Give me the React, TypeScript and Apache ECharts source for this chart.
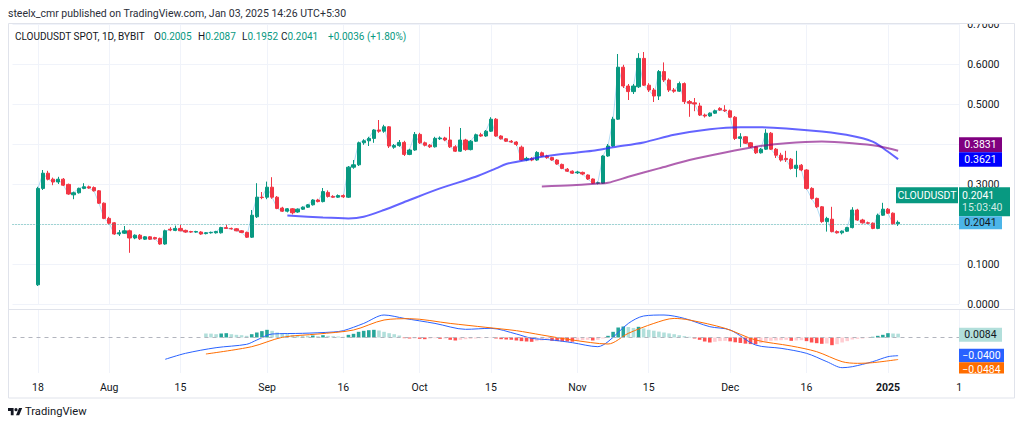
import React, { useEffect, useRef } from 'react';
import * as echarts from 'echarts';

const FONT = 'Roboto, "Noto Sans", sans-serif';
const TEXT = '#131722';
const UP = '#089981';
const DOWN = '#f23645';

// ---------- axis categories (daily) ----------
const DAY = 86400000;
const axisStart = Date.UTC(2024, 6, 13);
const axisEnd = Date.UTC(2025, 0, 15);
const categories: string[] = [];
for (let t = axisStart; t <= axisEnd; t += DAY) categories.push(new Date(t).toISOString().slice(0, 10));
const firstCandleDate = '2024-07-18';

const tickDates = ['2024-07-18', '2024-08-01', '2024-08-15', '2024-09-01', '2024-09-16', '2024-10-01', '2024-10-15', '2024-11-01', '2024-11-15', '2024-12-01', '2024-12-16', '2025-01-01', '2025-01-15'];
const tickLabels = ['18', 'Aug', '15', 'Sep', '16', 'Oct', '15', 'Nov', '15', 'Dec', '16', '2025', '1'];
// price-scale labels hidden behind the value tags in the reference
const hiddenPriceLabels = [0.2, 0.4];

// ---------- candles (from 2024-07-18, daily) ----------
const opens = [0.048, 0.289, 0.327, 0.312, 0.305, 0.312, 0.299, 0.273, 0.278, 0.289, 0.293, 0.291, 0.283, 0.252, 0.214, 0.203, 0.175, 0.177, 0.183, 0.165, 0.172, 0.162, 0.168, 0.166, 0.164, 0.150, 0.187, 0.184, 0.189, 0.184, 0.181, 0.180, 0.180, 0.176, 0.178, 0.178, 0.178, 0.191, 0.189, 0.188, 0.183, 0.179, 0.167, 0.218, 0.267, 0.267, 0.292, 0.267, 0.240, 0.232, 0.238, 0.230, 0.237, 0.242, 0.248, 0.260, 0.256, 0.279, 0.269, 0.267, 0.271, 0.267, 0.342, 0.348, 0.403, 0.408, 0.414, 0.435, 0.432, 0.443, 0.392, 0.396, 0.404, 0.374, 0.385, 0.424, 0.403, 0.397, 0.393, 0.413, 0.415, 0.410, 0.393, 0.382, 0.410, 0.386, 0.407, 0.423, 0.420, 0.432, 0.462, 0.420, 0.413, 0.407, 0.405, 0.392, 0.360, 0.364, 0.360, 0.378, 0.370, 0.366, 0.360, 0.349, 0.337, 0.332, 0.328, 0.329, 0.3225, 0.3125, 0.302, 0.302, 0.370, 0.395, 0.462, 0.592, 0.545, 0.531, 0.543, 0.614, 0.547, 0.535, 0.520, 0.581, 0.560, 0.535, 0.532, 0.551, 0.506, 0.503, 0.495, 0.4725, 0.470, 0.477, 0.489, 0.485, 0.483, 0.467, 0.414, 0.418, 0.403, 0.393, 0.378, 0.387, 0.427, 0.387, 0.372, 0.364, 0.362, 0.339, 0.347, 0.335, 0.289, 0.264, 0.243, 0.206, 0.212, 0.181, 0.178, 0.182, 0.191, 0.235, 0.210, 0.203, 0.202, 0.189, 0.222, 0.237, 0.227, 0.2005];
const highs = [0.293, 0.335, 0.333, 0.316, 0.318, 0.315, 0.301, 0.281, 0.291, 0.302, 0.296, 0.294, 0.285, 0.254, 0.218, 0.205, 0.185, 0.195, 0.186, 0.174, 0.175, 0.170, 0.170, 0.168, 0.166, 0.186, 0.192, 0.196, 0.198, 0.186, 0.183, 0.183, 0.182, 0.180, 0.181, 0.183, 0.193, 0.198, 0.191, 0.190, 0.185, 0.181, 0.235, 0.302, 0.280, 0.306, 0.317, 0.270, 0.243, 0.240, 0.240, 0.239, 0.244, 0.250, 0.262, 0.263, 0.290, 0.284, 0.272, 0.274, 0.274, 0.345, 0.360, 0.406, 0.412, 0.418, 0.437, 0.460, 0.448, 0.445, 0.400, 0.410, 0.408, 0.388, 0.430, 0.428, 0.406, 0.400, 0.418, 0.419, 0.418, 0.443, 0.397, 0.440, 0.413, 0.410, 0.426, 0.428, 0.435, 0.467, 0.465, 0.422, 0.415, 0.410, 0.407, 0.396, 0.368, 0.367, 0.382, 0.381, 0.373, 0.368, 0.362, 0.351, 0.340, 0.334, 0.333, 0.331, 0.324, 0.314, 0.306, 0.372, 0.400, 0.468, 0.625, 0.598, 0.550, 0.550, 0.627, 0.630, 0.552, 0.540, 0.585, 0.604, 0.564, 0.540, 0.556, 0.554, 0.510, 0.515, 0.503, 0.476, 0.479, 0.486, 0.492, 0.497, 0.486, 0.470, 0.427, 0.420, 0.405, 0.395, 0.390, 0.437, 0.430, 0.390, 0.378, 0.383, 0.365, 0.383, 0.350, 0.337, 0.292, 0.266, 0.245, 0.218, 0.243, 0.184, 0.184, 0.193, 0.242, 0.238, 0.213, 0.206, 0.204, 0.226, 0.253, 0.240, 0.229, 0.2087];
const lows = [0.045, 0.285, 0.309, 0.297, 0.300, 0.295, 0.273, 0.262, 0.276, 0.287, 0.288, 0.281, 0.250, 0.212, 0.199, 0.173, 0.170, 0.175, 0.128, 0.162, 0.160, 0.160, 0.160, 0.161, 0.148, 0.148, 0.182, 0.182, 0.182, 0.178, 0.178, 0.178, 0.173, 0.174, 0.176, 0.176, 0.176, 0.188, 0.186, 0.182, 0.177, 0.165, 0.165, 0.215, 0.262, 0.262, 0.263, 0.237, 0.230, 0.229, 0.224, 0.228, 0.235, 0.240, 0.246, 0.254, 0.254, 0.266, 0.265, 0.265, 0.265, 0.265, 0.338, 0.345, 0.398, 0.395, 0.403, 0.428, 0.428, 0.390, 0.388, 0.393, 0.370, 0.372, 0.383, 0.400, 0.394, 0.390, 0.391, 0.410, 0.407, 0.390, 0.380, 0.380, 0.383, 0.384, 0.405, 0.418, 0.418, 0.430, 0.418, 0.411, 0.405, 0.403, 0.395, 0.358, 0.357, 0.357, 0.358, 0.368, 0.363, 0.358, 0.348, 0.337, 0.330, 0.325, 0.325, 0.322, 0.310, 0.300, 0.299, 0.300, 0.368, 0.393, 0.460, 0.540, 0.510, 0.525, 0.540, 0.545, 0.530, 0.505, 0.510, 0.555, 0.530, 0.528, 0.530, 0.500, 0.468, 0.482, 0.470, 0.466, 0.468, 0.475, 0.483, 0.480, 0.465, 0.410, 0.392, 0.400, 0.390, 0.375, 0.376, 0.385, 0.385, 0.365, 0.356, 0.355, 0.336, 0.317, 0.332, 0.286, 0.261, 0.240, 0.203, 0.181, 0.179, 0.176, 0.174, 0.180, 0.189, 0.208, 0.201, 0.200, 0.187, 0.187, 0.220, 0.225, 0.199, 0.1952];
const closes = [0.289, 0.327, 0.312, 0.305, 0.312, 0.297, 0.275, 0.278, 0.289, 0.293, 0.290, 0.283, 0.252, 0.214, 0.202, 0.175, 0.178, 0.183, 0.165, 0.172, 0.163, 0.168, 0.162, 0.163, 0.150, 0.183, 0.185, 0.189, 0.183, 0.180, 0.180, 0.181, 0.175, 0.178, 0.179, 0.181, 0.191, 0.189, 0.188, 0.183, 0.179, 0.167, 0.222, 0.267, 0.266, 0.292, 0.267, 0.239, 0.232, 0.238, 0.228, 0.237, 0.242, 0.248, 0.260, 0.256, 0.281, 0.269, 0.267, 0.271, 0.268, 0.342, 0.348, 0.403, 0.408, 0.414, 0.435, 0.432, 0.443, 0.395, 0.396, 0.404, 0.374, 0.385, 0.424, 0.403, 0.397, 0.393, 0.414, 0.415, 0.410, 0.393, 0.382, 0.410, 0.386, 0.407, 0.423, 0.420, 0.432, 0.462, 0.420, 0.413, 0.407, 0.405, 0.399, 0.360, 0.364, 0.360, 0.379, 0.370, 0.366, 0.360, 0.350, 0.339, 0.332, 0.327, 0.330, 0.325, 0.3125, 0.302, 0.303, 0.370, 0.395, 0.462, 0.592, 0.545, 0.531, 0.545, 0.614, 0.547, 0.535, 0.520, 0.581, 0.560, 0.535, 0.532, 0.551, 0.506, 0.502, 0.500, 0.4725, 0.470, 0.477, 0.483, 0.485, 0.483, 0.467, 0.414, 0.418, 0.402, 0.393, 0.378, 0.387, 0.427, 0.387, 0.372, 0.360, 0.361, 0.339, 0.347, 0.335, 0.289, 0.264, 0.243, 0.206, 0.214, 0.181, 0.178, 0.182, 0.191, 0.235, 0.210, 0.203, 0.202, 0.189, 0.222, 0.237, 0.227, 0.2005, 0.2041];

// ---------- moving averages: [candle index, value] ----------
const maBluePoints: [number, number][] = [[49, 0.221], [56, 0.216], [61, 0.214], [64, 0.218], [68, 0.235], [73, 0.26], [79, 0.289], [86, 0.318], [90, 0.339], [92, 0.35], [96, 0.36], [99, 0.368], [103, 0.375], [109, 0.383], [113, 0.392], [119, 0.404], [125, 0.423], [132, 0.437], [138, 0.442], [141, 0.442], [147, 0.439], [154, 0.431], [160, 0.42], [164, 0.406], [166, 0.39], [169, 0.3621]];
const maPurplePoints: [number, number][] = [[99, 0.294], [105, 0.297], [110, 0.301], [112, 0.303], [116, 0.318], [122, 0.339], [128, 0.36], [135, 0.379], [141, 0.393], [147, 0.402], [154, 0.406], [160, 0.402], [165, 0.395], [169, 0.3831]];

// ---------- MACD ----------
const macdPoints: [number, number][] = [[25, -0.048], [29, -0.0348], [35, -0.0224], [41, -0.015], [43, -0.0055], [46, 0.0077], [52, 0.0092], [58, 0.0121], [60, 0.015], [64, 0.031], [68, 0.0495], [72, 0.042], [78, 0.031], [84, 0.018], [89, 0.0202], [94, 0.0077], [97, -0.0018], [101, -0.0055], [105, -0.0114], [110, -0.0202], [112, -0.0092], [116, 0.031], [119, 0.0473], [123, 0.0495], [127, 0.042], [132, 0.0238], [136, 0.0165], [141, -0.0165], [146, -0.0238], [151, -0.0348], [155, -0.0532], [158, -0.0664], [160, -0.0642], [164, -0.0532], [167, -0.0422], [169, -0.04]];
const signalPoints: [number, number][] = [[33, -0.0363], [42, -0.0202], [48, 0.0004], [55, 0.0077], [62, 0.0165], [68, 0.0385], [73, 0.0414], [81, 0.031], [88, 0.0224], [94, 0.015], [99, 0.0055], [105, -0.0055], [112, -0.0143], [116, 0.0092], [121, 0.031], [125, 0.042], [128, 0.0385], [135, 0.0202], [141, -0.0055], [148, -0.0187], [153, -0.0312], [158, -0.0532], [161, -0.0568], [164, -0.0554], [169, -0.0484]];
const histStart = 33;
const histValues = [0.0088, 0.0085, 0.0073, 0.0088, 0.0095, 0.0073, 0.0059, 0.0051, 0.0037, 0.0073, 0.011, 0.014, 0.0169, 0.0147, 0.011, 0.0088, 0.0073, 0.0059, 0.0051, 0.0044, 0.0037, 0.0044, 0.0029, 0.0051, 0.0037, 0.0029, 0.0022, 0.0015, 0.0059, 0.0081, 0.0125, 0.0147, 0.0161, 0.0169, 0.0154, 0.0125, 0.0095, 0.0073, 0.0044, -0.0015, -0.0022, -0.002, -0.0029, -0.0037, -0.0022, -0.0015, -0.0029, -0.0022, -0.0051, -0.0066, -0.0051, -0.0037, -0.0029, -0.0022, -0.0015, -0.0012, -0.0007, -0.0022, -0.0037, -0.0044, -0.0051, -0.0066, -0.008, -0.0088, -0.0095, -0.008, -0.0066, -0.0051, -0.0073, -0.008, -0.0085, -0.009, -0.0092, -0.0073, -0.0059, -0.0051, -0.0066, -0.0051, -0.0022, 0.0037, 0.0125, 0.022, 0.0242, 0.023, 0.021, 0.0235, 0.02, 0.017, 0.015, 0.013, 0.011, 0.009, 0.0073, 0.0051, 0.003, 0.0015, -0.0022, -0.0051, -0.0088, -0.011, -0.0095, -0.008, -0.0073, -0.0085, -0.0105, -0.012, -0.0135, -0.0145, -0.015, -0.0125, -0.009, -0.0073, -0.0066, -0.0059, -0.0051, -0.0073, -0.0066, -0.0059, -0.008, -0.011, -0.0125, -0.0139, -0.0132, -0.0169, -0.0147, -0.011, -0.008, -0.0044, -0.0029, -0.0022, -0.0007, 0.0015, 0.0037, 0.0059, 0.0095, 0.0088, 0.0084];

const lastPrice = 0.2041;
const maBlueLast = 0.3621;
const maPurpleLast = 0.3831;
const histLast = 0.0084;
const macdLast = -0.04;
const signalLast = -0.0484;

// TradingView logo outline
echarts.graphic.registerShape(
  'tvlogo',
  echarts.graphic.extendPath('M14 22H7V11H0V4h14v18zM28 22h-8l7.5-18h8L28 22zM20 4a4 4 0 1 1 0 8a4 4 0 1 1 0-8z', {})
);

const offset = categories.indexOf(firstCandleDate);
const GRID_LEFT = 12.5;
const GRID_RIGHT = 1024 - 959.2;

export default function App() {
  const ref = useRef<HTMLDivElement>(null);
  useEffect(() => {
    if (!ref.current) return;
    const chart = echarts.init(ref.current, undefined, { renderer: 'svg' });

    const candleData = categories.map((_, i) => {
      const k = i - offset;
      if (k >= 0 && k < opens.length) return [opens[k], closes[k], lows[k], highs[k]];
      return '-';
    });
    const closeData = categories.map((_, i) => {
      const k = i - offset;
      return k >= 0 && k < closes.length ? closes[k] : '-';
    });
    const toXY = (pts: [number, number][]) => pts.map(([d, v]) => [d + offset, v]);
    const histData = categories.map((_, i) => {
      const k = i - offset - histStart;
      if (k < 0 || k >= histValues.length) return '-';
      const v = histValues[k];
      const prev = k > 0 ? histValues[k - 1] : undefined;
      let color;
      if (v >= 0) color = prev !== undefined && v >= prev ? '#26a69a' : '#b2dfdb';
      else color = prev !== undefined && v <= prev ? '#ff5252' : '#ffcdd2';
      return { value: v, itemStyle: { color } };
    });

    const isTick = (_i: number, v: string) => tickDates.indexOf(v) >= 0;

    chart.setOption({
      animation: false,
      backgroundColor: '#ffffff',
      grid: [
        { left: GRID_LEFT, right: GRID_RIGHT, top: 24, height: 280 },
        { left: GRID_LEFT, right: GRID_RIGHT, top: 309, height: 64 },
      ],
      xAxis: [
        {
          type: 'category', gridIndex: 0, data: categories, boundaryGap: false,
          axisLine: { show: false }, axisTick: { show: false }, axisLabel: { show: false },
          splitLine: { show: true, interval: isTick, lineStyle: { color: '#f0f3fa', width: 1 } },
        },
        {
          type: 'category', gridIndex: 1, data: categories, boundaryGap: false,
          axisLine: { show: false }, axisTick: { show: false },
          splitLine: { show: true, interval: isTick, lineStyle: { color: '#f0f3fa', width: 1 } },
          axisLabel: {
            interval: isTick, margin: 9, fontSize: 10.5, fontFamily: FONT, color: TEXT,
            formatter: (v: string) => {
              const s = tickLabels[tickDates.indexOf(v)];
              return s === '2025' ? '{b|2025}' : s;
            },
            rich: { b: { fontWeight: 'bold', fontSize: 10.5, fontFamily: FONT, color: TEXT } },
          },
        },
      ],
      yAxis: [
        {
          type: 'value', gridIndex: 0, position: 'right', min: 0, max: 0.7, interval: 0.1,
          axisLine: { show: false }, axisTick: { show: false },
          splitLine: { show: true, lineStyle: { color: '#f0f3fa', width: 1 } },
          axisLabel: {
            margin: 8, fontSize: 10.5, fontFamily: FONT, color: TEXT,
            formatter: (v: number) => (hiddenPriceLabels.some((h) => Math.abs(h - v) < 1e-9) ? '' : v.toFixed(4)),
          },
        },
        {
          type: 'value', gridIndex: 1, position: 'right', min: -0.0781, max: 0.0627,
          axisLine: { show: false }, axisTick: { show: false }, splitLine: { show: false }, axisLabel: { show: false },
        },
      ],
      series: [
        {
          type: 'line', xAxisIndex: 0, yAxisIndex: 0, data: closeData, showSymbol: false, z: 1,
          lineStyle: { color: 'rgba(80,175,230,0.45)', width: 1 }, silent: true,
        },
        {
          type: 'candlestick', xAxisIndex: 0, yAxisIndex: 0, data: candleData, barWidth: '72%', z: 3,
          itemStyle: { color: UP, color0: DOWN, borderColor: UP, borderColor0: DOWN, borderWidth: 1 },
          markLine: {
            silent: true, symbol: ['none', 'none'], label: { show: false },
            lineStyle: { type: [1, 2], color: '#26a69a', width: 1, opacity: 0.8 },
            data: [{ yAxis: lastPrice }],
          },
        },
        {
          type: 'line', xAxisIndex: 0, yAxisIndex: 0, data: toXY(maBluePoints), showSymbol: false, smooth: 0.3, z: 4,
          lineStyle: { color: 'rgba(40,40,255,0.72)', width: 2 }, silent: true,
        },
        {
          type: 'line', xAxisIndex: 0, yAxisIndex: 0, data: toXY(maPurplePoints), showSymbol: false, smooth: 0.3, z: 4,
          lineStyle: { color: 'rgba(128,0,128,0.62)', width: 2 }, silent: true,
        },
        {
          type: 'bar', xAxisIndex: 1, yAxisIndex: 1, data: histData, barWidth: '70%', silent: true,
          markLine: {
            silent: true, symbol: ['none', 'none'], label: { show: false },
            lineStyle: { type: [4, 4], color: '#b2b5be', width: 1 },
            data: [{ yAxis: 0 }],
          },
        },
        {
          type: 'line', xAxisIndex: 1, yAxisIndex: 1, data: toXY(macdPoints), showSymbol: false, smooth: 0.3,
          lineStyle: { color: '#2962ff', width: 1 }, silent: true,
        },
        {
          type: 'line', xAxisIndex: 1, yAxisIndex: 1, data: toXY(signalPoints), showSymbol: false, smooth: 0.3,
          lineStyle: { color: '#ff6d00', width: 1 }, silent: true,
        },
      ],
    });

    const py = (v: number) => chart.convertToPixel({ yAxisIndex: 0 }, v) as number;
    const my = (v: number) => chart.convertToPixel({ yAxisIndex: 1 }, v) as number;

    const txt = (x: number, y: number, text: string, fill: string, extra: any = {}) => ({
      type: 'text', x, y, z: 110, silent: true,
      style: { text, fill, fontSize: 10.5, fontFamily: FONT, align: 'left', verticalAlign: 'middle', ...extra },
    });
    const box = (x: number, y: number, w: number, h: number, fill: string) => ({
      type: 'rect', z: 105, silent: true, shape: { x, y, width: w, height: h }, style: { fill },
    });
    const richOHLC = {
      fontSize: 10,
      rich: {
        k: { fill: TEXT, color: TEXT, fontSize: 10, fontFamily: FONT },
        g: { fill: UP, color: UP, fontSize: 10, fontFamily: FONT },
      },
    };

    const TX = 959;
    const yBlue = py(maBlueLast);
    const yPurple = yBlue - 14.5;
    const yLast = py(lastPrice);
    const yHist = my(histLast);
    const yMacd = my(macdLast);
    const ySig = yMacd + 13;

    const graphics: any[] = [
      // clip of top label
      box(956, 0, 60, 23, '#ffffff'),
      // header
      txt(8, 13.5, 'steelx_cmr published on TradingView.com, Jan 03, 2025 14:26 UTC+5:30', '#2a2e39'),
      txt(15, 36.5, 'CLOUDUSDT SPOT, 1D, BYBIT', TEXT, { fontSize: 10 }),
      txt(154, 36.5, '{k|O}{g|0.2005}', TEXT, richOHLC),
      txt(198, 36.5, '{k|H}{g|0.2087}', TEXT, richOHLC),
      txt(242, 36.5, '{k|L}{g|0.1952}', TEXT, richOHLC),
      txt(281, 36.5, '{k|C}{g|0.2041}', TEXT, richOHLC),
      txt(328, 36.5, '+0.0036 (+1.80%)', UP, { fontSize: 10 }),
      // frame and pane separator
      { type: 'rect', z: 100, silent: true, shape: { x: 8.5, y: 23.5, width: 1006, height: 374.5 }, style: { fill: 'none', stroke: '#e0e3eb', lineWidth: 1 } },
      { type: 'line', z: 100, silent: true, shape: { x1: 8.5, y1: 309.5, x2: 1014.5, y2: 309.5 }, style: { stroke: '#e0e3eb', lineWidth: 1 } },
      // MA tags
      box(TX, yPurple - 7.5, 43, 15, '#800080'),
      txt(TX + 21.5, yPurple, maPurpleLast.toFixed(4), '#ffffff', { align: 'center' }),
      box(TX, yBlue - 7, 43, 14.5, '#0000ff'),
      txt(TX + 21.5, yBlue, maBlueLast.toFixed(4), '#ffffff', { align: 'center' }),
      // last price tags
      box(896, yLast - 35, 62, 16, UP),
      txt(927, yLast - 27, 'CLOUDUSDT', '#ffffff', { align: 'center' }),
      box(TX, yLast - 35, 51, 29, UP),
      txt(TX + 3, yLast - 27, lastPrice.toFixed(4), '#ffffff'),
      txt(TX + 3, yLast - 14.5, '15:03:40', 'rgba(255,255,255,0.82)'),
      box(TX, yLast - 6, 43, 13, '#4cb5e8'),
      txt(TX + 21.5, yLast + 0.5, lastPrice.toFixed(4), TEXT, { align: 'center' }),
      // MACD tags
      box(TX, yHist - 6, 43, 14, '#b2dfdb'),
      txt(TX + 21.5, yHist + 1, histLast.toFixed(4), TEXT, { align: 'center' }),
      box(TX, yMacd - 7, 45, 13.5, '#2962ff'),
      txt(TX + 22.5, yMacd, '\u2212' + Math.abs(macdLast).toFixed(4), '#ffffff', { align: 'center' }),
      box(TX, ySig - 6.5, 45, 14, '#ff6d00'),
      txt(TX + 22.5, ySig + 1, '\u2212' + Math.abs(signalLast).toFixed(4), '#ffffff', { align: 'center' }),
      box(TX - 1, 373.5, 50, 8, '#ffffff'),
      // logo
      { type: 'tvlogo', x: 8, y: 406.5, scaleX: 0.4, scaleY: 0.4, z: 110, silent: true, style: { fill: TEXT } },
      txt(25, 411, 'TradingView', TEXT, { fontSize: 11.2 }),
    ];

    chart.setOption({ graphic: graphics });
    return () => chart.dispose();
  }, []);

  return <div ref={ref} style={{ position: 'fixed', left: 0, top: 0, width: 1024, height: 428, background: '#fff' }} />;
}
